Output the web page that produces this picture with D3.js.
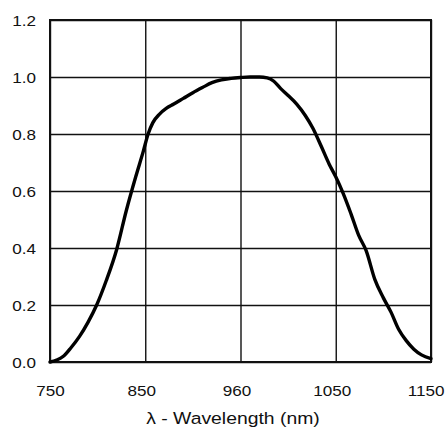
<!DOCTYPE html>
<html>
<head>
<meta charset="utf-8">
<script src="https://cdn.jsdelivr.net/npm/d3@7"></script>
<style>
  body { margin: 0; background: #fff; }
  svg { display: block; }
  text { font-family: "Liberation Sans", Arial, sans-serif; fill: #111; }
</style>
</head>
<body>
<svg width="446" height="428"></svg>
<script>
// spectral response
var wavelength = [750, 757, 764, 772, 781, 790, 799, 809, 820, 830, 840, 848, 853, 858, 865, 872,
	880, 890, 900, 910, 920, 930, 940, 950, 960, 970, 978, 985, 992, 1000, 1009, 1018, 1026,
	1035, 1043, 1050, 1058, 1066, 1074, 1082, 1091, 1100, 1108, 1116, 1124, 1132, 1140, 1150];
var response = [0, 0.007, 0.02, 0.05, 0.09, 0.14, 0.2, 0.285, 0.395, 0.53, 0.65, 0.74, 0.8, 0.84, 0.87, 0.89,
	0.905, 0.925, 0.945, 0.963, 0.98, 0.99, 0.995, 0.998, 1.0, 1.0, 0.997, 0.985, 0.96, 0.935, 0.905, 0.865, 0.82,
	0.755, 0.695, 0.65, 0.59, 0.52, 0.445, 0.39, 0.29, 0.225, 0.175, 0.115, 0.075, 0.045, 0.025, 0.012];

var xTicks = [750, 850, 950, 1050, 1150];
var xLabels = ["750", "850", "960", "1050", "1150"];
var yTicks = [0, 0.2, 0.4, 0.6, 0.8, 1.0, 1.2];
var yLabels = ["0.0", "0.2", "0.4", "0.6", "0.8", "1.0", "1.2"];
var xTitle = "λ - Wavelength (nm)";

var box = { left: 50, right: 431, top: 20, bottom: 362 };
var STRETCH = 1.14; // the source font is drawn a bit wide

var svg = d3.select("svg");
var x = d3.scaleLinear().domain([750, 1150]).range([box.left, box.right]);
var y = d3.scaleLinear().domain([0, 1.2]).range([box.bottom, box.top]);

// vertical grid + x labels
var gx = svg.append("g")
	.attr("transform", "translate(0," + box.bottom + ")")
	.call(d3.axisBottom(x).tickValues(xTicks)
		.tickSize(-(box.bottom - box.top))
		.tickFormat(function(d, i){ return xLabels[i] }));
gx.select(".domain").remove();
gx.selectAll("line").attr("stroke", "#111").attr("stroke-width", 1.4);
gx.selectAll("text")
	.attr("y", 29).attr("dy", "0.35em")
	.attr("x", function(d, i){ return i == 0 ? 0 : -4 / STRETCH })
	.attr("transform", "scale(" + STRETCH + ",1)")
	.style("font-size", "15px");
// last label would run off the page: pin its right edge instead
gx.selectAll("text").filter(function(d, i){ return i == xTicks.length - 1 })
	.attr("text-anchor", "end")
	.attr("x", 13 / STRETCH);

// horizontal grid + y labels
var gy = svg.append("g")
	.attr("transform", "translate(" + box.left + ",0)")
	.call(d3.axisLeft(y).tickValues(yTicks)
		.tickSize(-(box.right - box.left))
		.tickFormat(function(d, i){ return yLabels[i] }));
gy.select(".domain").remove();
gy.selectAll("line").attr("stroke", "#111").attr("stroke-width", 1.4);
gy.selectAll("text")
	.attr("x", -14 / STRETCH).attr("dy", "0.38em")
	.attr("transform", "scale(" + STRETCH + ",1)")
	.style("font-size", "15px");

// frame
svg.append("rect")
	.attr("x", box.left).attr("y", box.top)
	.attr("width", box.right - box.left).attr("height", box.bottom - box.top)
	.attr("fill", "none").attr("stroke", "#111").attr("stroke-width", 2);

// curve
var pts = wavelength.map(function(w, i){ return { w: w, r: response[i] } });
var line = d3.line()
	.x(function(d){ return x(d.w) })
	.y(function(d){ return y(d.r) })
	.curve(d3.curveMonotoneX);
svg.append("path")
	.datum(pts)
	.attr("d", line)
	.attr("fill", "none")
	.attr("stroke", "#000")
	.attr("stroke-width", 3.4)
	.attr("stroke-linejoin", "round")
	.attr("stroke-linecap", "round");

// axis title
svg.append("text")
	.attr("transform", "translate(233,424) scale(" + STRETCH + ",1)")
	.attr("text-anchor", "middle")
	.style("font-size", "17px")
	.text(xTitle);
</script>
</body>
</html>
